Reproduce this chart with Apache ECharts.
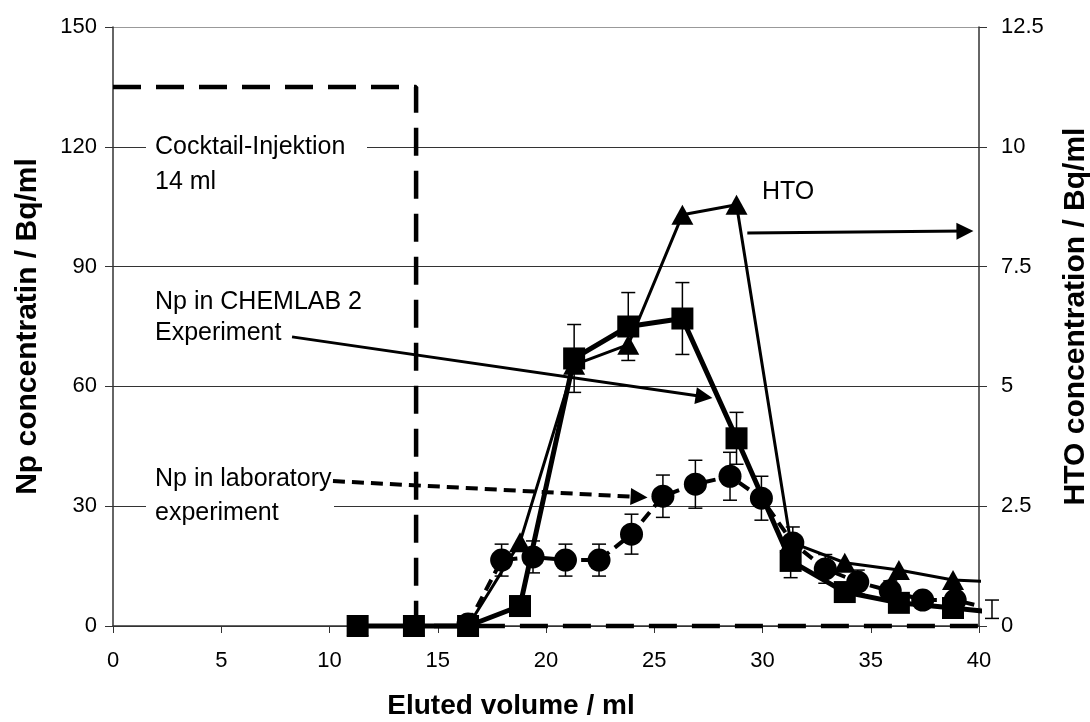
<!DOCTYPE html>
<html>
<head>
<meta charset="utf-8">
<script src="https://cdn.jsdelivr.net/npm/echarts@6/dist/echarts.min.js"></script>
<style>
  html, body { margin: 0; padding: 0; background: #fff; }
  #chart { width: 1090px; height: 722px; }
</style>
</head>
<body>
<div id="chart"></div>
<script>
// Np in CHEMLAB 2 experiment (left axis, Bq/ml)
const chemlabVolume = [11.3, 13.9, 16.4, 18.8, 21.3, 23.8, 26.3, 28.8, 31.3, 33.8, 36.3, 38.8, 40.6];
const chemlabNp     = [0, 0, 0, 5, 67, 75, 77, 47, 16.3, 8.5, 5.8, 4.5, 3.5];
const chemlabErr    = [0, 0, 0, 1, 8.5, 8.5, 9, 6.5, 4.2, 2, 1.5, 1.2, 0];

// HTO tracer (right axis, Bq/ml)
const htoVolume = [11.3, 13.9, 16.4, 18.8, 21.3, 23.8, 26.3, 28.8, 31.3, 33.8, 36.3, 38.8, 40.6];
const htoConc   = [0, 0, 0, 1.75, 5.45, 5.87, 8.58, 8.79, 1.75, 1.32, 1.17, 0.96, 0.92];

// Np in laboratory experiment (left axis, Bq/ml)
const labVolume = [16.4, 17.95, 19.4, 20.9, 22.45, 23.95, 25.4, 26.9, 28.5, 29.95, 31.4, 32.9, 34.4, 35.9, 37.4, 38.9, 40.6];
const labNp     = [0.5, 16.5, 17.3, 16.5, 16.5, 23, 32.5, 35.5, 37.5, 32, 20.8, 14.3, 11, 8.8, 6.5, 6.5, 4.2];
const labErr    = [0, 4, 4, 4, 4, 5, 5.3, 6, 6, 5.5, 4, 3.6, 3, 2.5, 2, 2, 2.3];

// Injection window: 14 ml cocktail
const injectionVolume = [0, 14, 14, 40];
const injectionLevel  = [135, 135, 0, 0];

// Axis ranges
const xRange   = [0, 40, 5];
const npRange  = [0, 150, 30];
const htoRange = [0, 12.5, 2.5];

// Annotation arrows [x1, y1, x2, y2] in volume / Np units
const arrowChemlab = [8.27, 72.4, 27.3, 57.4];
const arrowHto     = [29.3, 98.4, 39.35, 98.9];
const arrowLab     = [10.16, 36.3, 24.3, 32.3];

const FONT = '"Liberation Sans", Arial, sans-serif';
const AXIS_COLOR = '#333';
const PLOT_MAX_X = xRange[1];

function pairs(xs, ys) {
  return xs.map((x, i) => {
    const item = { value: [x, ys[i]] };
    if (x > PLOT_MAX_X) item.symbol = 'none';
    return item;
  });
}

function errorBarItem(params, api) {
  const x = api.value(0), y = api.value(1), e = api.value(2);
  if (!e) return { type: 'group', children: [] };
  const top = api.coord([x, y + e]);
  const bot = api.coord([x, y - e]);
  const hw = 7;
  const style = { stroke: '#000', lineWidth: 1.5 };
  return {
    type: 'group',
    children: [
      { type: 'line', shape: { x1: top[0], y1: top[1], x2: bot[0], y2: bot[1] }, style },
      { type: 'line', shape: { x1: top[0] - hw, y1: top[1], x2: top[0] + hw, y2: top[1] }, style },
      { type: 'line', shape: { x1: bot[0] - hw, y1: bot[1], x2: bot[0] + hw, y2: bot[1] }, style }
    ]
  };
}

function arrow(a, dashed) {
  return [
    { coord: [a[0], a[1]], symbol: 'none',
      lineStyle: { color: '#000', width: dashed ? 4 : 3, type: dashed ? [12, 7] : 'solid' } },
    { coord: [a[2], a[3]], symbol: 'triangle', symbolSize: 17 }
  ];
}

const chart = echarts.init(document.getElementById('chart'), null, { renderer: 'canvas' });

chart.setOption({
  animation: false,
  backgroundColor: '#fff',
  grid: { left: 113, right: 111, top: 27, bottom: 96, containLabel: false, outerBoundsMode: 'none' },
  xAxis: {
    type: 'value',
    min: xRange[0], max: xRange[1], interval: xRange[2],
    name: 'Eluted volume / ml',
    nameLocation: 'middle',
    nameGap: 66,
    nameTextStyle: { fontFamily: FONT, fontSize: 28, fontWeight: 'bold', color: '#000', padding: [0, 70, 0, 0] },
    axisLine: { onZero: false, lineStyle: { color: AXIS_COLOR, width: 1.5 } },
    axisTick: { show: true, length: 7, inside: false, lineStyle: { color: AXIS_COLOR } },
    axisLabel: { fontFamily: FONT, fontSize: 22, color: '#000', margin: 24 },
    splitLine: { show: false }
  },
  yAxis: [
    {
      type: 'value',
      position: 'left',
      min: npRange[0], max: npRange[1], interval: npRange[2],
      name: 'Np concentratin / Bq/ml',
      nameLocation: 'middle',
      nameGap: 70,
      nameTextStyle: { fontFamily: FONT, fontSize: 30, fontWeight: 'bold', color: '#000' },
      axisLine: { show: true, lineStyle: { color: AXIS_COLOR, width: 1.5 } },
      axisTick: { show: true, length: 8, lineStyle: { color: AXIS_COLOR } },
      axisLabel: { fontFamily: FONT, fontSize: 22, color: '#000', margin: 16 },
      splitLine: { show: true, lineStyle: { color: ['#333', '#333', '#333', '#333', '#333', '#999'], width: 1 } }
    },
    {
      type: 'value',
      position: 'right',
      min: htoRange[0], max: htoRange[1], interval: htoRange[2],
      name: 'HTO concentration / Bq/ml',
      nameLocation: 'middle',
      nameGap: 82,
      nameTextStyle: { fontFamily: FONT, fontSize: 30, fontWeight: 'bold', color: '#000', padding: [0, 0, 0, 20] },
      axisLine: { show: true, lineStyle: { color: AXIS_COLOR, width: 1.5 } },
      axisTick: { show: true, length: 8, lineStyle: { color: AXIS_COLOR } },
      axisLabel: { fontFamily: FONT, fontSize: 22, color: '#000', margin: 22 },
      splitLine: { show: false }
    }
  ],
  graphic: [
    { type: 'rect', z: 1, shape: { x: 146, y: 132, width: 221, height: 66 }, style: { fill: '#fff' } },
    { type: 'rect', z: 1, shape: { x: 146, y: 462, width: 188, height: 66 }, style: { fill: '#fff' } },
    { type: 'text', z: 1, x: 155, y: 147, style: { text: 'Cocktail-Injektion', font: '25px ' + FONT, fill: '#000', verticalAlign: 'middle' } },
    { type: 'text', z: 1, x: 155, y: 182, style: { text: '14 ml', font: '25px ' + FONT, fill: '#000', verticalAlign: 'middle' } },
    { type: 'text', z: 1, x: 155, y: 302, style: { text: 'Np in CHEMLAB 2', font: '25px ' + FONT, fill: '#000', verticalAlign: 'middle' } },
    { type: 'text', z: 1, x: 155, y: 333, style: { text: 'Experiment', font: '25px ' + FONT, fill: '#000', verticalAlign: 'middle' } },
    { type: 'text', z: 1, x: 155, y: 479, style: { text: 'Np in laboratory', font: '25px ' + FONT, fill: '#000', verticalAlign: 'middle' } },
    { type: 'text', z: 1, x: 155, y: 513, style: { text: 'experiment', font: '25px ' + FONT, fill: '#000', verticalAlign: 'middle' } },
    { type: 'text', z: 1, x: 762, y: 192, style: { text: 'HTO', font: '25px ' + FONT, fill: '#000', verticalAlign: 'middle' } }
  ],
  series: [
    {
      name: 'Cocktail-Injektion',
      type: 'line',
      yAxisIndex: 0,
      z: 2,
      clip: false,
      symbol: 'none',
      data: injectionVolume.map((x, i) => [x, injectionLevel[i]]),
      lineStyle: { color: '#000', width: 4.5, type: [28, 15] },
      markLine: {
        silent: true,
        symbol: ['none', 'triangle'],
        symbolSize: 17,
        label: { show: false },
        itemStyle: { color: '#000' },
        lineStyle: { color: '#000', width: 3, type: 'solid' },
        data: [arrow(arrowChemlab, false), arrow(arrowHto, false), arrow(arrowLab, true)]
      }
    },
    {
      name: 'Np in laboratory experiment',
      type: 'line',
      yAxisIndex: 0,
      z: 3,
      clip: false,
      symbol: 'circle',
      symbolSize: 23,
      data: pairs(labVolume, labNp),
      itemStyle: { color: '#000' },
      lineStyle: { color: '#000', width: 4, type: [12, 7] }
    },
    {
      name: 'Np in laboratory experiment error',
      type: 'custom',
      yAxisIndex: 0,
      z: 3,
      clip: false,
      renderItem: errorBarItem,
      encode: { x: 0, y: 1 },
      data: labVolume.map((x, i) => [x, labNp[i], labErr[i]])
    },
    {
      name: 'HTO',
      type: 'line',
      yAxisIndex: 1,
      z: 4,
      clip: false,
      symbol: 'triangle',
      symbolSize: [22, 20],
      data: pairs(htoVolume, htoConc),
      itemStyle: { color: '#000' },
      lineStyle: { color: '#000', width: 3 }
    },
    {
      name: 'Np in CHEMLAB 2 Experiment',
      type: 'line',
      yAxisIndex: 0,
      z: 5,
      clip: false,
      symbol: 'rect',
      symbolSize: 22,
      data: pairs(chemlabVolume, chemlabNp),
      itemStyle: { color: '#000' },
      lineStyle: { color: '#000', width: 5 }
    },
    {
      name: 'Np in CHEMLAB 2 Experiment error',
      type: 'custom',
      yAxisIndex: 0,
      z: 5,
      clip: false,
      renderItem: errorBarItem,
      encode: { x: 0, y: 1 },
      data: chemlabVolume.map((x, i) => [x, chemlabNp[i], chemlabErr[i]])
    }
  ]
});
</script>
</body>
</html>
